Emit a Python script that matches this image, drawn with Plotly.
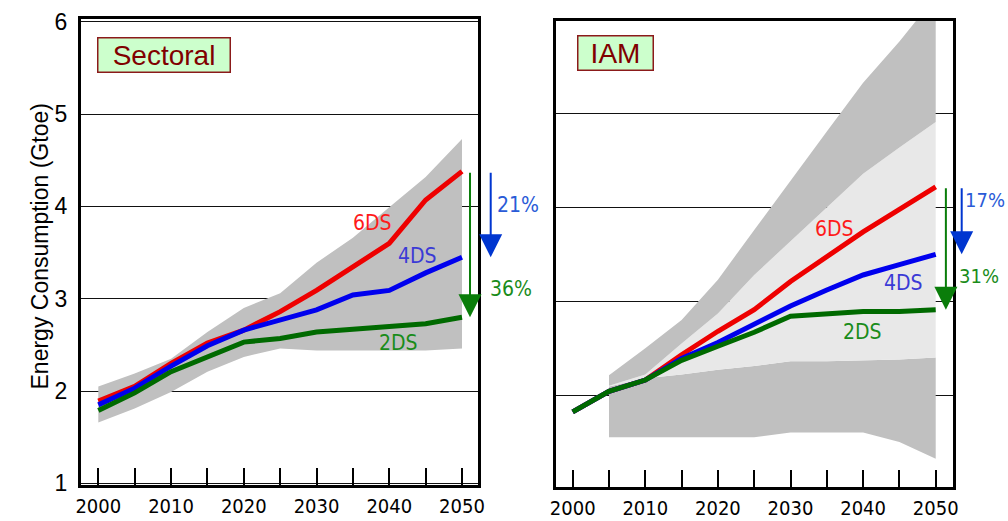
import plotly.graph_objects as go

# ---- data -------------------------------------------------------------
years = [2000, 2005, 2010, 2015, 2020, 2025, 2030, 2035, 2040, 2045, 2050]

# Sectoral models: scenario paths and spread of model results (Gtoe)
sect_6ds = [1.89, 2.05, 2.30, 2.52, 2.66, 2.86, 3.09, 3.34, 3.60, 4.07, 4.38]
sect_4ds = [1.85, 2.03, 2.27, 2.49, 2.66, 2.77, 2.88, 3.04, 3.09, 3.28, 3.45]
sect_2ds = [1.79, 1.98, 2.21, 2.37, 2.53, 2.57, 2.64, 2.67, 2.70, 2.73, 2.80]
sect_low = [1.66, 1.81, 1.99, 2.21, 2.37, 2.46, 2.44, 2.44, 2.44, 2.44, 2.46]
sect_high = [2.05, 2.19, 2.35, 2.64, 2.90, 3.06, 3.39, 3.66, 3.99, 4.32, 4.73]

# Integrated assessment models
iam_6ds = [1.82, 2.04, 2.16, 2.43, 2.68, 2.91, 3.21, 3.47, 3.74, 3.98, 4.22]
iam_4ds = [1.82, 2.04, 2.16, 2.39, 2.56, 2.75, 2.95, 3.12, 3.28, 3.39, 3.50]
iam_2ds = [1.82, 2.04, 2.16, 2.37, 2.52, 2.67, 2.84, 2.86, 2.89, 2.89, 2.91]
iam_years = [2005, 2010, 2015, 2020, 2025, 2030, 2035, 2040, 2045, 2050]
iam_full_low = [1.55, 1.55, 1.55, 1.55, 1.55, 1.60, 1.60, 1.60, 1.50, 1.32]
iam_inner_low = [2.09, 2.18, 2.22, 2.27, 2.31, 2.36, 2.36, 2.37, 2.38, 2.40]
iam_inner_high = [2.10, 2.22, 2.55, 2.87, 3.28, 3.64, 4.00, 4.36, 4.64, 4.91]
iam_full_high = [2.21, 2.50, 2.80, 3.23, 3.76, 4.29, 4.81, 5.33, 5.77, 6.25]

x_ticks = [2000, 2010, 2020, 2030, 2040, 2050]
x_minor = [2005, 2015, 2025, 2035, 2045]
y_ticks = [1, 2, 3, 4, 5, 6]

# ---- style ------------------------------------------------------------
ARIAL = "Liberation Sans, Arial, sans-serif"
NARROW = "Liberation Sans Narrow, Arial Narrow, DejaVu Sans Condensed, sans-serif"
RED, BLUE, GREEN = "#ee0000", "#0000ee", "#006a00"
DARK_BAND, LIGHT_BAND = "#c0c0c0", "#e8e8e8"
LW = 5


def reduction(base, other):
    return f"{round((base[-1] - other[-1]) / base[-1] * 100)}%"


fig = go.Figure()

# Sectoral panel: band then scenario lines
fig.add_trace(go.Scatter(x=years, y=sect_low, mode="lines", line=dict(width=0),
                         xaxis="x", yaxis="y", hoverinfo="skip"))
fig.add_trace(go.Scatter(x=years, y=sect_high, mode="lines", line=dict(width=0),
                         fill="tonexty", fillcolor=DARK_BAND,
                         xaxis="x", yaxis="y", hoverinfo="skip"))
for vals, col in [(sect_6ds, RED), (sect_4ds, BLUE), (sect_2ds, GREEN)]:
    fig.add_trace(go.Scatter(x=years, y=vals, mode="lines",
                             line=dict(color=col, width=LW),
                             xaxis="x", yaxis="y"))

# IAM panel: outer/inner ranges then scenario lines
fig.add_trace(go.Scatter(x=iam_years, y=iam_full_low, mode="lines", line=dict(width=0),
                         xaxis="x2", yaxis="y2", hoverinfo="skip"))
fig.add_trace(go.Scatter(x=iam_years, y=iam_inner_low, mode="lines", line=dict(width=0),
                         fill="tonexty", fillcolor=DARK_BAND,
                         xaxis="x2", yaxis="y2", hoverinfo="skip"))
fig.add_trace(go.Scatter(x=iam_years, y=iam_inner_high, mode="lines", line=dict(width=0),
                         fill="tonexty", fillcolor=LIGHT_BAND,
                         xaxis="x2", yaxis="y2", hoverinfo="skip"))
fig.add_trace(go.Scatter(x=iam_years, y=iam_full_high, mode="lines", line=dict(width=0),
                         fill="tonexty", fillcolor=DARK_BAND,
                         xaxis="x2", yaxis="y2", hoverinfo="skip"))
for vals, col in [(iam_6ds, RED), (iam_4ds, BLUE), (iam_2ds, GREEN)]:
    fig.add_trace(go.Scatter(x=years, y=vals, mode="lines",
                             line=dict(color=col, width=LW),
                             xaxis="x2", yaxis="y2"))

# ---- axes -------------------------------------------------------------
frame = dict(showline=True, linewidth=3, linecolor="black", mirror=True,
             zeroline=False, automargin=False, fixedrange=True)
xcommon = dict(tickvals=x_ticks, ticks="inside", ticklen=17, tickwidth=1.5,
               tickcolor="black", showgrid=False, ticklabelstandoff=1,
               minor=dict(tickvals=x_minor, ticks="inside", ticklen=17,
                          tickwidth=1.5, tickcolor="black"),
               tickfont=dict(family=NARROW, size=20, color="black"), **frame)
ycommon = dict(tickvals=y_ticks, ticks="", showgrid=True, gridcolor="#111111",
               gridwidth=1, **frame)

fig.update_layout(
    width=1008, height=521, template="none",
    margin=dict(l=0, r=0, t=0, b=0),
    paper_bgcolor="white", plot_bgcolor="white", showlegend=False,
    font=dict(family=ARIAL, color="black"),
    xaxis=dict(domain=[0.080357, 0.474504], range=[1997.62, 2052.24],
               anchor="y", **xcommon),
    yaxis=dict(domain=[0.069098, 0.962572], range=[0.982, 6.025], anchor="x",
               ticklabelstandoff=6,
               tickfont=dict(family=ARIAL, size=23, color="black"), **ycommon),
    xaxis2=dict(domain=[0.551587, 0.945139], range=[1997.70, 2052.34],
                anchor="y2", **xcommon),
    yaxis2=dict(domain=[0.065835, 0.960269], range=[1.023, 5.991], anchor="x2",
                showticklabels=False, **ycommon),
)

# ---- annotations --------------------------------------------------------
ann = []

# y axis title
ann.append(dict(text="Energy Consumption (Gtoe)", xref="paper", yref="paper",
                x=0.0248, y=0.5269, textangle=-90, showarrow=False,
                font=dict(family=ARIAL, size=23, color="black")))

# panel titles
for label, x, y, w in [("Sectoral", 0.0962, 0.9290, 131), ("IAM", 0.5724, 0.9334, 74)]:
    ann.append(dict(text=label, xref="paper", yref="paper", x=x, y=y,
                    xanchor="left", yanchor="top", showarrow=False,
                    width=w, height=33, borderpad=0, borderwidth=1.5,
                    bgcolor="#ccffcc", bordercolor="#8b1a1a",
                    font=dict(family=ARIAL, size=28, color="#800000")))

# scenario labels
LABEL_FONT = dict(family=NARROW, size=21)
for text, col, x, y, xr, yr in [
    ("6DS", "#ff1a1a", 2037.7, 3.815, "x", "y"),
    ("4DS", "#3a3ad6", 2043.9, 3.46, "x", "y"),
    ("2DS", "#1a8c1a", 2041.3, 2.525, "x", "y"),
    ("6DS", "#ff1a1a", 2036.1, 3.765, "x2", "y2"),
    ("4DS", "#3a3ad6", 2045.5, 3.19, "x2", "y2"),
    ("2DS", "#1a8c1a", 2039.85, 2.667, "x2", "y2"),
]:
    ann.append(dict(text=text, xref=xr, yref=yr, x=x, y=y, showarrow=False,
                    font=dict(color=col, **LABEL_FONT)))

# reduction arrows (from 6DS down to 4DS / 2DS in 2050)
ARROW_BLUE, ARROW_GREEN = "#0036d0", "#0a7d0a"
for xr, x, yr, tip, tail, col in [
    ("x", 2051.1, "y", sect_2ds[-1], sect_6ds[-1], ARROW_GREEN),
    ("paper", 490.7 / 1008, "y", sect_4ds[-1], sect_6ds[-1], ARROW_BLUE),
    ("x2", 2051.4, "y2", iam_2ds[-1], iam_6ds[-1], ARROW_GREEN),
    ("paper", 961.7 / 1008, "y2", iam_4ds[-1], iam_6ds[-1], ARROW_BLUE),
]:
    ann.append(dict(text="", xref=xr, yref=yr, x=x, y=tip,
                    axref="pixel", ax=0, ayref=yr, ay=tail,
                    showarrow=True, arrowhead=2, arrowsize=2.3, arrowwidth=2,
                    arrowcolor=col, standoff=0))

# reduction percentages
for text, col, x, y, size in [
    (reduction(sect_6ds, sect_4ds), "#2a5bd7", 496 / 1008, 0.6056, 21),
    (reduction(sect_6ds, sect_2ds), "#1a8c1a", 489 / 1008, 0.4453, 21),
    (reduction(iam_6ds, iam_4ds), "#2a5bd7", 964 / 1008, 0.6161, 20),
    (reduction(iam_6ds, iam_2ds), "#1a8c1a", 958 / 1008, 0.4702, 20),
]:
    ann.append(dict(text=text, xref="paper", yref="paper", x=x, y=y,
                    xanchor="left", showarrow=False, borderpad=0,
                    font=dict(color=col, family=NARROW, size=size)))

fig.update_layout(annotations=ann)
fig.write_html("out.html")
